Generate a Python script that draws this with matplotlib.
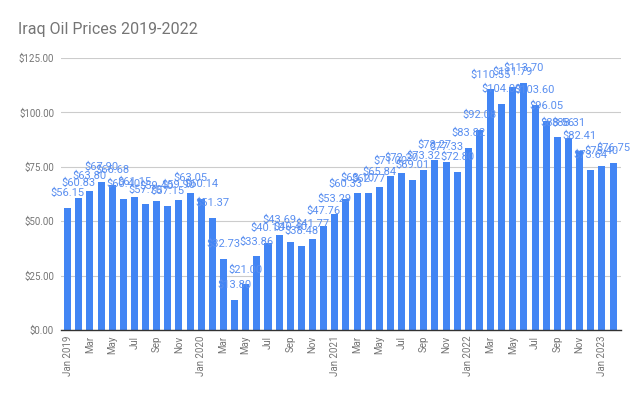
import matplotlib
matplotlib.use("Agg")
import matplotlib.pyplot as plt
import numpy as np

plt.rcParams['font.family'] = ['Roboto', 'DejaVu Sans']

# monthly prices, Jan 2019 .. Feb 2023
months = ["Jan 2019", "Feb", "Mar", "Apr", "May", "Jun", "Jul", "Aug", "Sep", "Oct", "Nov", "Dec",
          "Jan 2020", "Feb", "Mar", "Apr", "May", "Jun", "Jul", "Aug", "Sep", "Oct", "Nov", "Dec",
          "Jan 2021", "Feb", "Mar", "Apr", "May", "Jun", "Jul", "Aug", "Sep", "Oct", "Nov", "Dec",
          "Jan 2022", "Feb", "Mar", "Apr", "May", "Jun", "Jul", "Aug", "Sep", "Oct", "Nov", "Dec",
          "Jan 2023", "Feb"]
prices = [56.15, 60.83, 63.80, 67.90, 66.68, 60.40, 61.15, 57.70, 59.40, 57.15, 59.90, 63.05,
          60.14, 51.37, 32.73, 13.80, 21.00, 33.86, 40.10, 43.69, 40.40, 38.48, 41.77, 47.76,
          53.29, 60.33, 63.10, 62.77, 65.84, 71.00, 72.20, 69.01, 73.32, 78.27, 77.33, 72.80,
          83.82, 92.08, 110.55, 104.09, 111.79, 113.70, 103.60, 96.05, 88.56, 88.31, 82.41, 73.64,
          75.40, 76.75]
y_ticks = [0, 25, 50, 75, 100, 125]

blue = "#4285F4"
grey = "#757575"

fig = plt.figure(figsize=(6.4, 3.96), dpi=100)
ax = fig.add_axes([0.0953, 0.1667, 0.8747, 0.6868])

x = np.arange(len(prices))
ax.bar(x, prices, width=0.63, color=blue, zorder=2)

# data labels
for xi, v in zip(x, prices):
    ax.text(xi, v + 4.5, f"${v:.2f}", ha="center", va="bottom", fontsize=8,
            color="#5a8ff0", zorder=3)

ax.set_ylim(0, 125)
ax.set_xlim(-0.6, 49.7)
ax.set_yticks(y_ticks)
ax.set_yticklabels([f"${t:.2f}" for t in y_ticks])
ax.grid(True, axis="y", color="#cccccc", linewidth=0.8, zorder=0)
ax.set_xticks(x[::2])
ax.set_xticklabels(months[::2], rotation=90)
ax.tick_params(axis="both", length=0, labelsize=7, labelcolor=grey)
ax.tick_params(axis="x", pad=4)
ax.tick_params(axis="y", pad=5)

for s in ["top", "right", "left"]:
    ax.spines[s].set_visible(False)
ax.spines["bottom"].set_color("#333333")
ax.spines["bottom"].set_linewidth(1)

fig.text(0.028, 0.925, "Iraq Oil Prices 2019-2022", fontsize=11.5, color="#757575",
         ha="left", va="center")

fig.savefig("out.png", dpi=100)
